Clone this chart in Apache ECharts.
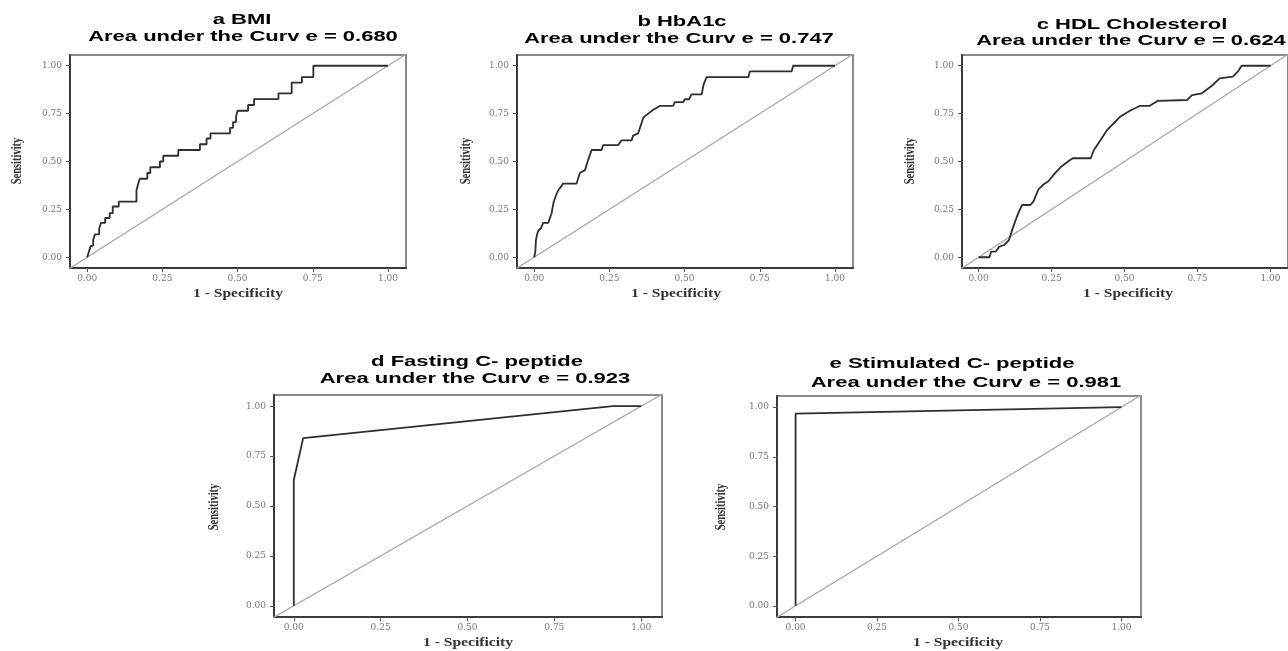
<!DOCTYPE html>
<html>
<head>
<meta charset="utf-8">
<title>ROC curves</title>
<script src="https://cdn.jsdelivr.net/npm/echarts@6/dist/echarts.min.js"></script>
<style>
  html, body { margin: 0; padding: 0; background: #fff; }
  #main { width: 1288px; height: 651px; }
</style>
</head>
<body>
<div id="main"></div>
<script>
// ROC points [1 - specificity, sensitivity]
const bmiRoc = [
  [0, 0], [0.006, 0], [0.006, 0.03], [0.012, 0.03], [0.012, 0.06], [0.02, 0.06], [0.02, 0.09],
  [0.026, 0.09], [0.026, 0.12], [0.04, 0.12], [0.04, 0.15], [0.046, 0.15], [0.046, 0.18],
  [0.06, 0.18], [0.06, 0.205], [0.075, 0.205], [0.075, 0.23], [0.085, 0.23], [0.085, 0.265],
  [0.105, 0.265], [0.105, 0.29], [0.164, 0.29], [0.164, 0.35], [0.17, 0.35], [0.17, 0.385],
  [0.175, 0.385], [0.175, 0.41], [0.2, 0.41], [0.2, 0.44], [0.21, 0.44], [0.21, 0.47],
  [0.242, 0.47], [0.242, 0.5], [0.253, 0.5], [0.253, 0.53], [0.303, 0.53], [0.303, 0.56],
  [0.375, 0.56], [0.375, 0.59], [0.397, 0.59], [0.397, 0.62], [0.41, 0.62], [0.41, 0.647],
  [0.475, 0.647], [0.475, 0.676], [0.485, 0.676], [0.485, 0.706], [0.495, 0.706], [0.495, 0.735],
  [0.5, 0.735], [0.5, 0.765], [0.535, 0.765], [0.535, 0.795], [0.555, 0.795], [0.555, 0.826],
  [0.636, 0.826], [0.636, 0.856], [0.68, 0.856], [0.68, 0.912], [0.714, 0.912], [0.714, 0.941],
  [0.752, 0.941], [0.752, 1], [1, 1]
];
const hba1cRoc = [
  [0, 0], [0.004, 0.03], [0.006, 0.09], [0.01, 0.12], [0.014, 0.14], [0.022, 0.15], [0.03, 0.18],
  [0.047, 0.18], [0.058, 0.23], [0.065, 0.29], [0.072, 0.32], [0.08, 0.35], [0.09, 0.37],
  [0.096, 0.385], [0.141, 0.385], [0.152, 0.44], [0.169, 0.455], [0.18, 0.51], [0.191, 0.56],
  [0.224, 0.56], [0.229, 0.585], [0.279, 0.585], [0.29, 0.61], [0.324, 0.61], [0.329, 0.635],
  [0.346, 0.647], [0.363, 0.73], [0.379, 0.75], [0.396, 0.77], [0.418, 0.79], [0.462, 0.79],
  [0.468, 0.81], [0.496, 0.81], [0.501, 0.825], [0.515, 0.825], [0.523, 0.85], [0.557, 0.85],
  [0.563, 0.9], [0.573, 0.94], [0.712, 0.94], [0.717, 0.97], [0.856, 0.97], [0.861, 1], [1, 1]
];
const hdlRoc = [
  [0, 0], [0.037, 0], [0.043, 0.03], [0.059, 0.03], [0.071, 0.056], [0.087, 0.064], [0.104, 0.09],
  [0.115, 0.143], [0.127, 0.195], [0.138, 0.238], [0.149, 0.273], [0.177, 0.273], [0.188, 0.292],
  [0.205, 0.355], [0.222, 0.38], [0.239, 0.397], [0.261, 0.438], [0.283, 0.473], [0.306, 0.5],
  [0.323, 0.517], [0.384, 0.517], [0.395, 0.56], [0.418, 0.612], [0.44, 0.664], [0.485, 0.734],
  [0.518, 0.765], [0.552, 0.79], [0.585, 0.79], [0.614, 0.817], [0.714, 0.821], [0.731, 0.847],
  [0.765, 0.856], [0.798, 0.894], [0.826, 0.934], [0.871, 0.943], [0.888, 0.969], [0.901, 1], [1, 1]
];
const fastingRoc = [[0, 0], [0, 0.63], [0.027, 0.84], [0.918, 1], [1, 1]];
const stimulatedRoc = [[0, 0], [0, 0.967], [1, 1]];
const diagonal = [[-0.06, -0.06], [1.06, 1.06]];

const tickValues = [0, 0.25, 0.5, 0.75, 1];
const tickLabels = ['0.00', '0.25', '0.50', '0.75', '1.00'];
const panelNames = ['a BMI', 'b HbA1c', 'c HDL Cholesterol', 'd Fasting C- peptide', 'e Stimulated C- peptide'];
const aucValues = ['0.680', '0.747', '0.624', '0.923', '0.981'];

const rocCurves = [bmiRoc, hba1cRoc, hdlRoc, fastingRoc, stimulatedRoc];

// placement of each panel (the source figure is stretched sideways)
const layout = [
  { grid: { left: 70, top: 55, width: 336, height: 213 }, t1: [242, 20.5], t2: [243, 37], fs: 14, sx: 1.57, yName: [17.5, 161], xName: [238, 294] },
  { grid: { left: 517, top: 55, width: 336, height: 213 }, t1: [682, 22.5], t2: [679, 39], fs: 14, sx: 1.57, yName: [466, 161], xName: [676, 294] },
  { grid: { left: 962, top: 55, width: 333, height: 213 }, t1: [1132, 25], t2: [1131, 41.5], fs: 14, sx: 1.57, yName: [910, 161], xName: [1128, 294] },
  { grid: { left: 274, top: 395, width: 388, height: 222 }, t1: [477, 362], t2: [475, 379], fs: 15, sx: 1.47, yName: [214, 507], xName: [468, 643] },
  { grid: { left: 777, top: 396, width: 364, height: 221 }, t1: [952, 364], t2: [966, 383], fs: 15, sx: 1.47, yName: [721, 507], xName: [958, 643] }
];

function tickText(v) {
  const i = tickValues.findIndex(t => Math.abs(t - v) < 1e-6);
  return i < 0 ? '' : tickLabels[i];
}

function label(text, pos, opts) {
  return {
    type: 'text',
    x: pos[0],
    y: pos[1],
    rotation: opts.rotation || 0,
    scaleX: opts.sx || 1,
    scaleY: opts.sy || 1,
    silent: true,
    style: {
      text: text,
      fill: opts.color || '#000',
      fontSize: opts.size,
      fontWeight: opts.weight || 'normal',
      fontFamily: opts.family,
      align: 'center',
      verticalAlign: 'middle',
      textAlign: 'center',
      textVerticalAlign: 'middle'
    }
  };
}

const chart = echarts.init(document.getElementById('main'));

const grids = [], xAxes = [], yAxes = [], series = [], graphics = [];

layout.forEach((p, i) => {
  grids.push(Object.assign({ show: true, borderColor: '#8a8a8a', borderWidth: 2 }, p.grid));

  const axisBase = {
    type: 'value',
    gridIndex: i,
    axisLine: { onZero: false, lineStyle: { color: '#3a3a3a', width: 2 } },
    axisTick: { customValues: tickValues, length: 4, lineStyle: { color: '#555', width: 1 } },
    splitLine: { show: false }
  };
  xAxes.push(Object.assign({}, axisBase, {
    min: -0.057, max: 1.06,
    axisLabel: { customValues: tickValues, formatter: tickText, margin: 6, fontFamily: 'DejaVu Serif', fontSize: 9, color: '#777' }
  }));
  yAxes.push(Object.assign({}, axisBase, {
    min: -0.056, max: 1.056,
    axisLabel: { customValues: tickValues, formatter: tickText, margin: 8, fontFamily: 'DejaVu Serif', fontSize: 9, color: '#777' }
  }));

  series.push({
    type: 'line', xAxisIndex: i, yAxisIndex: i, data: diagonal,
    symbol: 'none', silent: true, z: 2,
    lineStyle: { color: '#ababab', width: 1.3 }
  });
  series.push({
    type: 'line', xAxisIndex: i, yAxisIndex: i, data: rocCurves[i],
    symbol: 'none', silent: true, z: 3,
    lineStyle: { color: '#2e2e2e', width: 1.8 }
  });

  // titles and axis names
  graphics.push(label(panelNames[i], p.t1, { size: p.fs, weight: 'bold', family: 'Liberation Sans', sx: p.sx }));
  graphics.push(label('Area under the Curv e = ' + aucValues[i], p.t2, { size: p.fs, weight: 'bold', family: 'Liberation Sans', sx: p.sx }));
  graphics.push(label('Sensitivity', p.yName, { size: 10.5, weight: 'bold', family: 'Liberation Serif', rotation: Math.PI / 2, sy: 1.3, color: '#333' }));
  graphics.push(label('1 - Specificity', p.xName, { size: 12, weight: 'bold', family: 'Liberation Serif', sx: 1.3, color: '#333' }));
});

const option = {
  animation: false,
  backgroundColor: '#fff',
  grid: grids,
  xAxis: xAxes,
  yAxis: yAxes,
  series: series,
  graphic: { elements: graphics }
};

chart.setOption(option);
</script>
</body>
</html>
